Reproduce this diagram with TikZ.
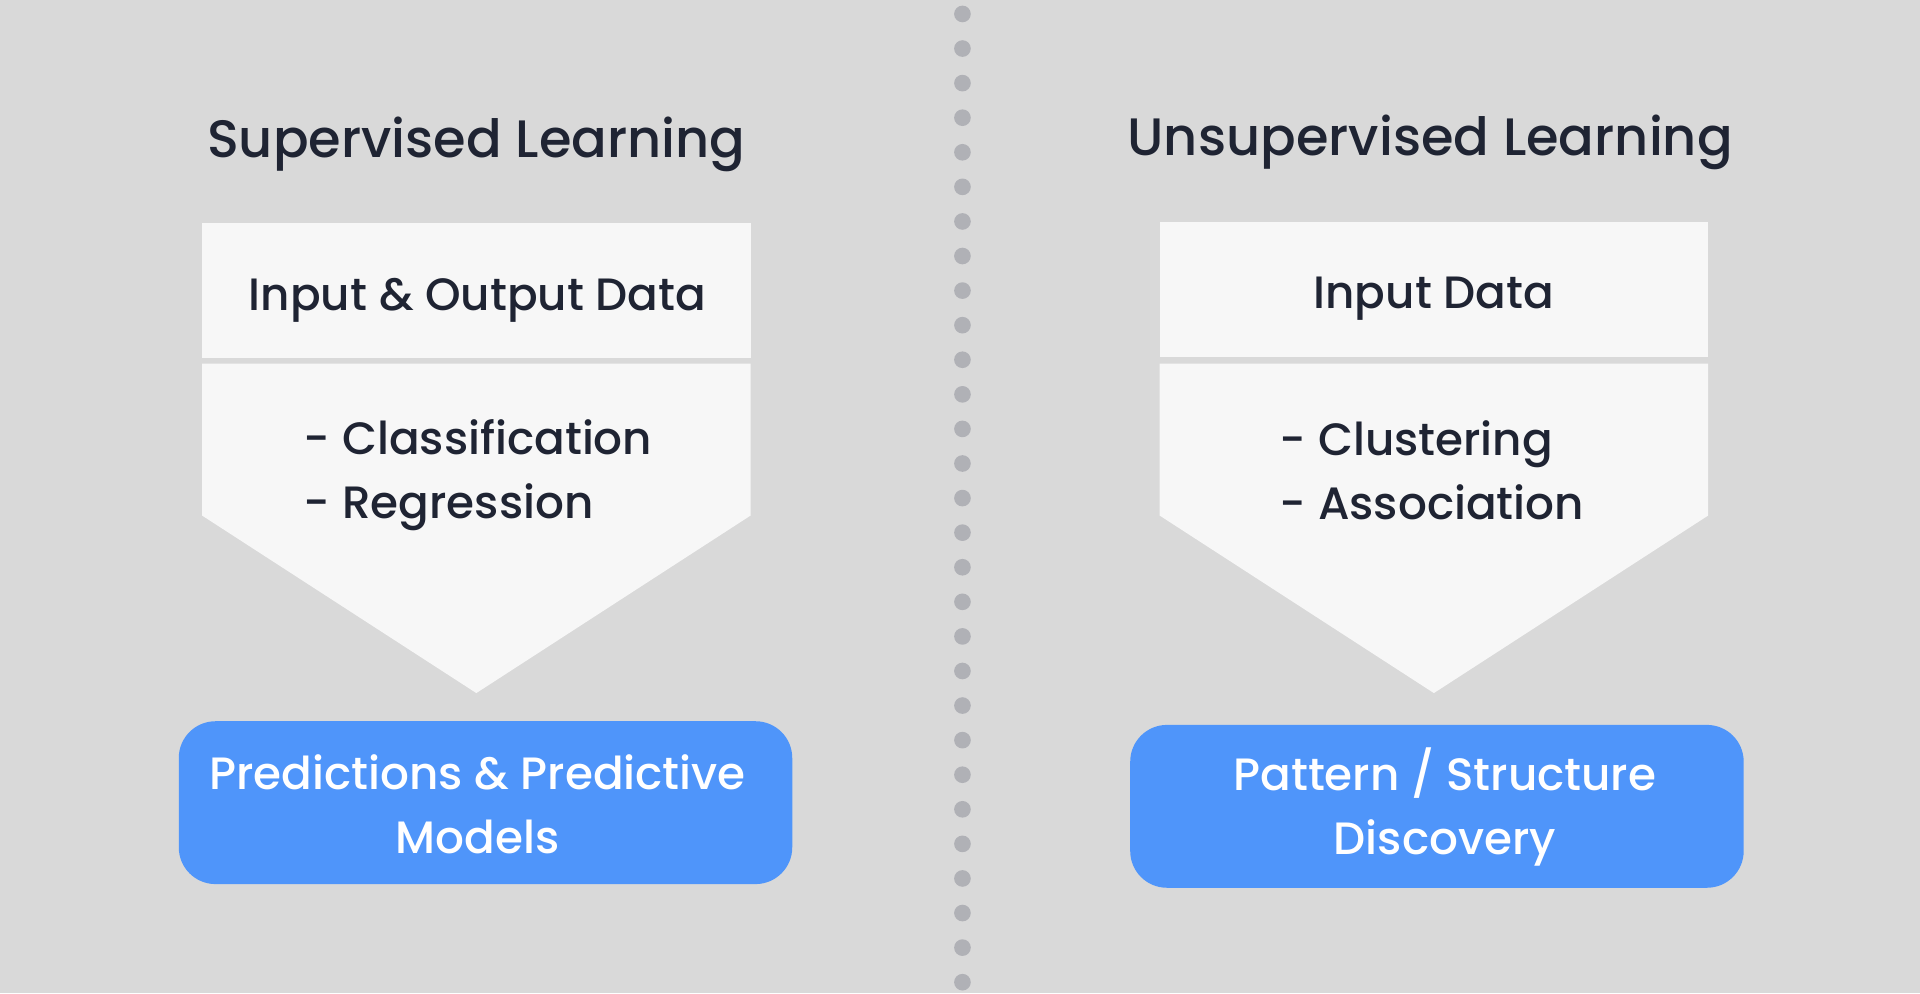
\documentclass[tikz,border=0pt]{standalone}
\usepackage{fontspec}
\setmainfont{Poppins}[UprightFont=* Medium]
\definecolor{bgc}{HTML}{D9D9D9}
\definecolor{boxc}{HTML}{F7F7F7}
\definecolor{txtc}{HTML}{1F2433}
\definecolor{bluec}{HTML}{4F95FA}
\definecolor{dotc}{HTML}{B0B1B6}
\begin{document}
\begin{tikzpicture}[x=1pt,y=-1pt,
  titlestyle/.style={text=txtc,font=\fontsize{43}{54}\selectfont,inner sep=0pt},
  topbox/.style={fill=boxc,draw=none,minimum width=448pt,minimum height=110pt,inner sep=0pt},
  boxtext/.style={text=txtc,font=\fontsize{37}{52}\selectfont,inner sep=0pt},
  listtext/.style={text=txtc,font=\fontsize{37}{52}\selectfont,align=left,inner sep=0pt,anchor=west},
  chevron/.style={fill=boxc,draw=none},
  resultbox/.style={fill=bluec,draw=none,rounded corners=30pt,minimum width=501pt,minimum height=133pt},
  resulttext/.style={text=white,font=\fontsize{37}{52}\selectfont,align=center,inner sep=0pt},
  dotstyle/.style={fill=dotc,draw=none}]
\fill[bgc] (0,0) rectangle (1568,811);
\useasboundingbox (0,0) rectangle (1568,811);
% divider
\foreach \i in {0,...,28} {\fill[dotstyle] (786,{11.4+28.24*\i}) circle (6.8);}
% left panel
\node[titlestyle] (t1) at (389,118) {Supervised Learning};
\node[topbox] (in1) at (389,237) {};
\node[boxtext] (in1t) at (390,245) {Input \& Output Data};
\fill[chevron] (165,297) -- (613,297) -- (613,421) -- (389,566) -- (165,421) -- cycle;
\node[listtext] (l1) at (248,388) {- Classification\\- Regression};
\node[resultbox] (r1) at (396.5,655.5) {};
\node[resulttext] (r1t) at (390,657) {Predictions \& Predictive\\Models};
% right panel
\node[titlestyle] (t2) at (1168,116) {Unsupervised Learning};
\node[topbox] (in2) at (1171,236.5) {};
\node[boxtext] (in2t) at (1171,244) {Input Data};
\fill[chevron] (947,297) -- (1395,297) -- (1395,421) -- (1171,566) -- (947,421) -- cycle;
\node[listtext] (l2) at (1045,384) {- Clustering\\- Association};
\node[resultbox] (r2) at (1173.5,658.5) {};
\node[resulttext] (r2t) at (1180,659) {Pattern / Structure\\Discovery};
\end{tikzpicture}
\end{document}
